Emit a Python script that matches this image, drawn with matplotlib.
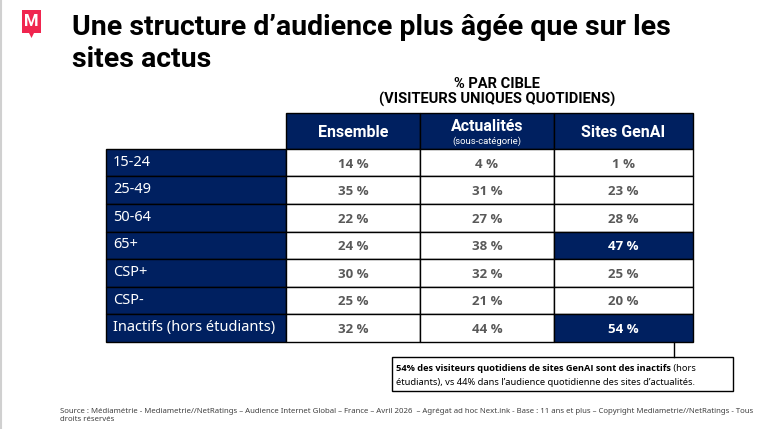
import matplotlib
matplotlib.use("Agg")
import matplotlib.pyplot as plt
from matplotlib import font_manager
from matplotlib.patches import Rectangle, Polygon
from matplotlib.text import Annotation

# Data
rows = ['15-24', '25-49', '50-64', '65+', 'CSP+', 'CSP-', 'Inactifs (hors étudiants)']
columns = ['Ensemble', 'Actualités', 'Sites GenAI']
ensemble = [14, 35, 22, 24, 30, 25, 32]
actualites = [4, 31, 27, 38, 32, 21, 44]
genai = [1, 23, 28, 47, 25, 20, 54]
highlight = {(3, 2), (6, 2)}  # (row, col) cells in navy

NAVY = '#002060'
GREY = '#595959'
PINK = '#f0254f'

fonts = font_manager.fontManager.ttflist
names = {f.name for f in fonts}
bold_names = {f.name for f in fonts if f.weight in ('bold', 700, 600, 'semibold', 800)}


def pick(cands, need_bold=False):
    pool = bold_names if need_bold else names
    return next((c for c in cands if c in pool), 'DejaVu Sans')


COND = pick(['Liberation Sans Narrow', 'Roboto', 'Liberation Sans'], True)
BODY = pick(['Noto Sans', 'Open Sans', 'Lato'])
BODYB = pick(['Noto Sans', 'Open Sans', 'Lato', 'Roboto'], True)

W, H = 770, 429
fig = plt.figure(figsize=(W / 100, H / 100), dpi=100)
fig.patch.set_facecolor('white')


def fx(x):
    return x / W


def fy(y):
    return 1 - y / H


# slide border + logo
fig.add_artist(plt.Line2D([fx(1), fx(1)], [0, 1], color='#d0d0d0', lw=1.5))
logo = Polygon([(fx(22), fy(10)), (fx(41), fy(10)), (fx(41), fy(33)), (fx(34), fy(33)),
                (fx(31.5), fy(38)), (fx(29), fy(33)), (fx(22), fy(33))],
               closed=True, facecolor=PINK, edgecolor='none', transform=fig.transFigure)
fig.add_artist(logo)
fig.text(fx(31.5), fy(22), 'M', color='white', fontsize=12, fontweight='bold',
         ha='center', va='center', family=COND)

# title
fig.text(fx(72), fy(35), 'Une structure d\u2019audience plus âgée que sur les',
         fontsize=20.5, fontweight='bold', family=COND, va='baseline')
fig.text(fx(72), fy(67), 'sites actus', fontsize=20.5, fontweight='bold', family=COND,
         va='baseline')

fig.text(fx(497), fy(88), '% PAR CIBLE', fontsize=10.5, fontweight='bold', family=COND,
         ha='center', va='baseline')
fig.text(fx(497), fy(104), '(VISITEURS UNIQUES QUOTIDIENS)', fontsize=10.5, fontweight='bold',
         family=COND, ha='center', va='baseline')

# table
x0, x1, y0, y1 = 106, 693, 113, 342
ax = fig.add_axes([fx(x0), fy(y1), (x1 - x0) / W, (y1 - y0) / H])
edges = [0, 180, 314, 448, 587]
head_h = 1.3
ax.set_xlim(0, edges[-1])
ax.set_ylim(len(rows), -head_h)
ax.axis('off')

# header
for j, name in enumerate(columns):
    xl, xr = edges[j + 1], edges[j + 2]
    ax.add_patch(Rectangle((xl, -head_h), xr - xl, head_h, facecolor=NAVY,
                           edgecolor='black', lw=1, clip_on=False))
    xc = (xl + xr) / 2
    if name == 'Actualités':
        ax.text(xc, -0.8, name, color='white', fontsize=11.5, fontweight='bold',
                family=COND, ha='center', va='center')
        ax.text(xc, -0.28, '(sous-catégorie)', color='white', fontsize=6.8,
                family=COND, ha='center', va='center')
    else:
        ax.text(xc, -0.6, name, color='white', fontsize=11.5, fontweight='bold',
                family=COND, ha='center', va='center')

values = [ensemble, actualites, genai]
for i, label in enumerate(rows):
    ax.add_patch(Rectangle((edges[0], i), edges[1] - edges[0], 1, facecolor=NAVY,
                           edgecolor='black', lw=1, clip_on=False))
    ax.text(edges[0] + 7, i + 0.48, label, color='white', fontsize=10.5, family=BODY,
            ha='left', va='center')
    for j, col in enumerate(values):
        hl = (i, j) in highlight
        xl, xr = edges[j + 1], edges[j + 2]
        ax.add_patch(Rectangle((xl, i), xr - xl, 1, facecolor=NAVY if hl else 'white',
                               edgecolor='black', lw=1, clip_on=False))
        ax.text((xl + xr) / 2, i + 0.55, f'{col[i]} %', color='white' if hl else GREY,
                fontsize=9.5, fontweight='bold', family=BODYB, ha='center', va='center')

# callout
fig.add_artist(plt.Line2D([fx(674), fx(674)], [fy(342), fy(357)], color='black', lw=1))
fig.add_artist(Rectangle((fx(392), fy(391)), (733 - 392) / W, (391 - 357) / H,
                         transform=fig.transFigure, facecolor='white', edgecolor='black', lw=1))
b = fig.text(fx(396), fy(373), '54% des visiteurs quotidiens de sites GenAI sont des inactifs',
             fontsize=6.7, fontweight='bold', family=BODYB, va='bottom')
fig.add_artist(Annotation(' (hors', xy=(1, 0), xycoords=b, fontsize=6.7, family=BODY,
                          va='bottom', annotation_clip=False))
fig.text(fx(396), fy(387), 'étudiants), vs 44% dans l\u2019audience quotidienne des sites d\u2019actualités.',
         fontsize=6.7, family=BODY, va='bottom')

# footer
fig.text(fx(60), fy(413), 'Source : Médiamétrie - Mediametrie//NetRatings \u2013 Audience Internet Global \u2013 '
         'France \u2013 Avril 2026  \u2013 Agrégat ad hoc Next.ink - Base : 11 ans et plus \u2013 '
         'Copyright Mediametrie//NetRatings - Tous', fontsize=5.6, color='#404040', family=BODY,
         va='baseline')
fig.text(fx(60), fy(421), 'droits réservés', fontsize=5.6, color='#404040', family=BODY,
         va='baseline')

fig.savefig('out.png', dpi=100, facecolor='white')
